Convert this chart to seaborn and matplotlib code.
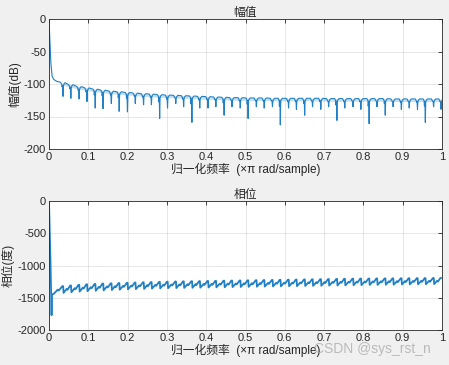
import numpy as np
import matplotlib
matplotlib.use("Agg")
import matplotlib.pyplot as plt
import seaborn as sns

# ---- values (freqz-style plot) ----
# start of the magnitude curve (sharp drop near DC)
mag_head_x = [0.0, 0.002, 0.005, 0.008, 0.012, 0.020, 0.028]
mag_head_db = [0.0, -30.0, -70.0, -88.0, -93.0, -96.0, -97.0]

# notch positions (normalized freq) and the curve level / notch depth there
notch_x = [0.036, 0.056, 0.077, 0.097, 0.118, 0.138, 0.159, 0.179, 0.200, 0.220,
           0.241, 0.261, 0.282, 0.302, 0.323, 0.343, 0.364, 0.384, 0.405, 0.425,
           0.446, 0.466, 0.487, 0.507, 0.528, 0.548, 0.569, 0.589, 0.610, 0.630,
           0.651, 0.671, 0.692, 0.712, 0.733, 0.753, 0.774, 0.794, 0.815, 0.835,
           0.856, 0.876, 0.897, 0.917, 0.938, 0.958, 0.979, 0.998]
mag_top = [-98, -101, -104, -106, -108, -109.5, -111, -112, -113, -114,
           -115, -115.5, -116.5, -117, -117.5, -118, -118.5, -119, -119.5, -120,
           -120.5, -121, -121, -121.5, -121.5, -121.5, -122, -122, -122, -122,
           -122, -122, -122, -122.5, -122.5, -122.5, -122.5, -122.5, -122.5, -122.5,
           -122.5, -123, -123, -123, -123, -123, -123, -123]
mag_dip = [-119, -122, -123, -127, -137, -138, -130, -142, -143, -130,
           -132, -132, -153, -137, -130, -135, -159, -137, -137, -135,
           -148, -135, -137, -153, -135, -137, -135, -163, -137, -139,
           -148, -135, -139, -135, -156, -137, -135, -139, -161, -135,
           -148, -135, -139, -137, -139, -159, -135, -139]

# phase: start, then a sawtooth whose teeth drop at the notches
phase_head_x = [0.0, 0.004, 0.0055, 0.0065, 0.0075, 0.011]
phase_head_deg = [0.0, -1000.0, -1450.0, -1770.0, -1450.0, -1440.0]
phase_low = [-1440, -1425, -1415, -1405, -1398, -1392, -1386, -1380, -1375, -1370,
             -1366, -1362, -1358, -1355, -1352, -1350, -1347, -1345, -1343, -1341,
             -1339, -1337, -1335, -1333, -1331, -1329, -1327, -1325, -1323, -1321,
             -1320, -1318, -1316, -1314, -1312, -1310, -1308, -1306, -1304, -1302,
             -1300, -1298, -1297, -1295, -1293, -1292, -1290, -1288]
phase_high = [-1320, -1310, -1300, -1292, -1286, -1280, -1276, -1272, -1268, -1264,
              -1260, -1257, -1254, -1251, -1248, -1246, -1244, -1242, -1240, -1238,
              -1236, -1234, -1232, -1230, -1228, -1226, -1224, -1222, -1220, -1218,
              -1216, -1214, -1212, -1210, -1208, -1206, -1204, -1203, -1202, -1201,
              -1200, -1199, -1198, -1197, -1196, -1195, -1194, -1193]

x_ticks = [0, 0.1, 0.2, 0.3, 0.4, 0.5, 0.6, 0.7, 0.8, 0.9, 1]
x_ticklabels = ["0", "0.1", "0.2", "0.3", "0.4", "0.5", "0.6", "0.7", "0.8", "0.9", "1"]
mag_yticks = [-200, -150, -100, -50, 0]
phase_yticks = [-2000, -1500, -1000, -500, 0]

LINE = "#1f80c6"
INK = "#262626"
BG = "#F0F0F0"


def build_mag():
    xs, ys = list(mag_head_x), list(mag_head_db)
    for x, t, d in zip(notch_x, mag_top, mag_dip):
        side = t - 0.3 * (t - d)
        xs += [x - 0.006, x - 0.0035, x - 0.0028, x - 0.0015, x - 0.0004, x + 0.0006, x + 0.002, x + 0.005]
        ys += [t, t - 3, side, t - 4, d, t - 5, t - 2, t]
    return np.array(xs), np.array(ys)


def build_phase():
    xs, ys = list(phase_head_x), list(phase_head_deg)
    starts = [phase_head_x[-1]] + notch_x[:-1]
    for x0, x1, lo, hi in zip(starts, notch_x, phase_low, phase_high):
        w = x1 - x0
        mid = lo + 0.55 * (hi - lo)
        xs += [x0 + 0.001, x0 + 0.45 * w, x0 + 0.55 * w, x1 - 0.002, x1]
        ys += [lo, mid, mid - 15, hi, hi]
    return np.array(xs), np.array(ys)


def style_axes(ax, yticks):
    ax.set_facecolor("white")
    ax.set_xlim(0, 1)
    ax.set_ylim(yticks[0], yticks[-1])
    ax.set_xticks(x_ticks)
    ax.set_xticklabels(x_ticklabels)
    ax.set_yticks(yticks)
    ax.set_yticklabels([str(v) for v in yticks])
    ax.grid(True, color=INK, alpha=0.13, lw=0.6)
    ax.set_axisbelow(True)
    ax.tick_params(direction="in", top=True, right=True, length=3, width=0.6,
                   labelsize=8, colors=INK, pad=2)
    for s in ax.spines.values():
        s.set_color(INK)
        s.set_linewidth(0.6)
        s.set_visible(True)


sns.set_style("whitegrid")
plt.rcParams["font.family"] = ["Liberation Sans", "Noto Sans CJK SC", "DejaVu Sans"]

fig = plt.figure(figsize=(4.49, 3.65), dpi=100, facecolor=BG)
ax1 = fig.add_axes([49 / 449, 1 - 149 / 365, 393 / 449, 130 / 365])
ax2 = fig.add_axes([49 / 449, 1 - 330 / 365, 393 / 449, 129 / 365])

mx, my = build_mag()
ax1.fill_between(notch_x, mag_top, [t - 4 for t in mag_top], color=LINE, alpha=0.25, lw=0)
sns.lineplot(x=mx, y=my, sort=False, estimator=None, color=LINE, lw=0.8, ax=ax1)
style_axes(ax1, mag_yticks)
ax1.set_title("幅值", fontsize=8.5, color=INK, pad=2)
ax1.set_ylabel("幅值(dB)", fontsize=8.5, color=INK, labelpad=2)
ax1.set_xlabel("归一化频率  (×π rad/sample)", fontsize=8.5, color=INK, labelpad=1)

px, py = build_phase()
sns.lineplot(x=px, y=py, sort=False, estimator=None, color=LINE, lw=1.3, ax=ax2)
style_axes(ax2, phase_yticks)
ax2.set_title("相位", fontsize=8.5, color=INK, pad=2)
ax2.set_ylabel("相位(度)", fontsize=8.5, color=INK, labelpad=2)
ax2.set_xlabel("归一化频率  (×π rad/sample)", fontsize=8.5, color=INK, labelpad=1)

fig.text(0.96, 0.045, "CSDN @sys_rst_n", ha="right", va="center", fontsize=10,
         color="#a8a8a8", alpha=0.75)

fig.savefig("out.png", dpi=100, facecolor=BG)
